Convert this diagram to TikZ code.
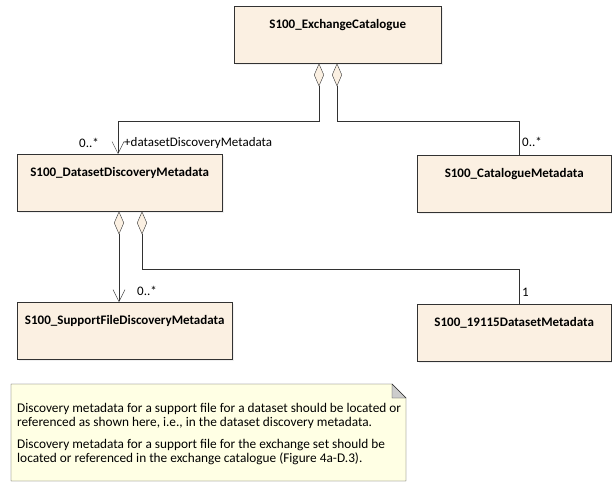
\documentclass[tikz,border=0pt]{standalone}
\usepackage{fontspec}
\setmainfont{Carlito}
\usetikzlibrary{arrows.meta,shadows}

\definecolor{classfill}{RGB}{251,240,226}
\definecolor{notefill}{RGB}{255,255,228}
\definecolor{lineclr}{RGB}{50,50,50}

\begin{document}
\begin{tikzpicture}
[x=1pt,y=-1pt,thin,%
  class/.style={draw=lineclr,fill=classfill,anchor=north west,
    font=\bfseries\fontsize{13}{15}\selectfont,inner xsep=2pt,
    text height=10pt,text depth=23pt,inner ysep=12pt,
    drop shadow={opacity=0.12,shadow xshift=2pt,shadow yshift=-2pt}},%
  role/.style={font=\fontsize{13}{15}\selectfont,inner sep=1pt},%
  agg/.style={draw=lineclr,{Diamond[length=23pt,width=10pt,fill=classfill]}-{Straight Barb[length=12pt,width=12pt]}},%
  aggend/.style={draw=lineclr,{Diamond[length=23pt,width=10pt,fill=classfill]}-}]
\useasboundingbox (0,0) rectangle (612,482);
%% classes
\node[class,minimum width=207pt] (ec) at (234,6) {S100\_ExchangeCatalogue};
\node[class,minimum width=205pt] (ddm) at (17,154) {S100\_DatasetDiscoveryMetadata};
\node[class,minimum width=194pt] (cm) at (417,155) {S100\_CatalogueMetadata};
\node[class,minimum width=215pt] (sfd) at (17,302) {S100\_SupportFileDiscoveryMetadata};
\node[class,minimum width=194pt] (dsm) at (417,304) {S100\_19115DatasetMetadata};
%% associations
\draw[agg] (319,0 |- ec.south) -- (319,121) -- (118,121) -- (118,0 |- ddm.north);
\draw[aggend] (337,0 |- ec.south) -- (337,121) -- (519,121) -- (519,0 |- cm.north);
\draw[agg] (119,0 |- ddm.south) -- (119,0 |- sfd.north);
\draw[aggend] (142,0 |- ddm.south) -- (142,269) -- (519,269) -- (519,0 |- dsm.north);
%% multiplicities and roles
\node[role] (m1) at (89,143) {0..*};
\node[role,anchor=west] (r1) at (123,143) {+datasetDiscoveryMetadata};
\node[role,anchor=west] (m2) at (521,142) {0..*};
\node[role,anchor=west] (m3) at (136,291) {0..*};
\node[role,anchor=west] (m4) at (521,292) {1};
%% note
\draw[draw=lineclr,fill=notefill] (11,384) -- (392,384) -- (406,398) -- (406,481) -- (11,481) -- cycle;
\draw[draw=lineclr,fill=lineclr!25] (392,384) -- (392,398) -- (406,398) -- cycle;
\node[anchor=north west,align=left,inner sep=0pt,font=\fontsize{13.3}{14}\selectfont] (note) at (17,403)
  {Discovery metadata for a support file for a dataset should be located or\\
   referenced as shown here, i.e., in the dataset discovery metadata.\\[8pt]
   Discovery metadata for a support file for the exchange set should be\\
   located or referenced in the exchange catalogue (Figure 4a-D.3).};
\end{tikzpicture}
\end{document}
